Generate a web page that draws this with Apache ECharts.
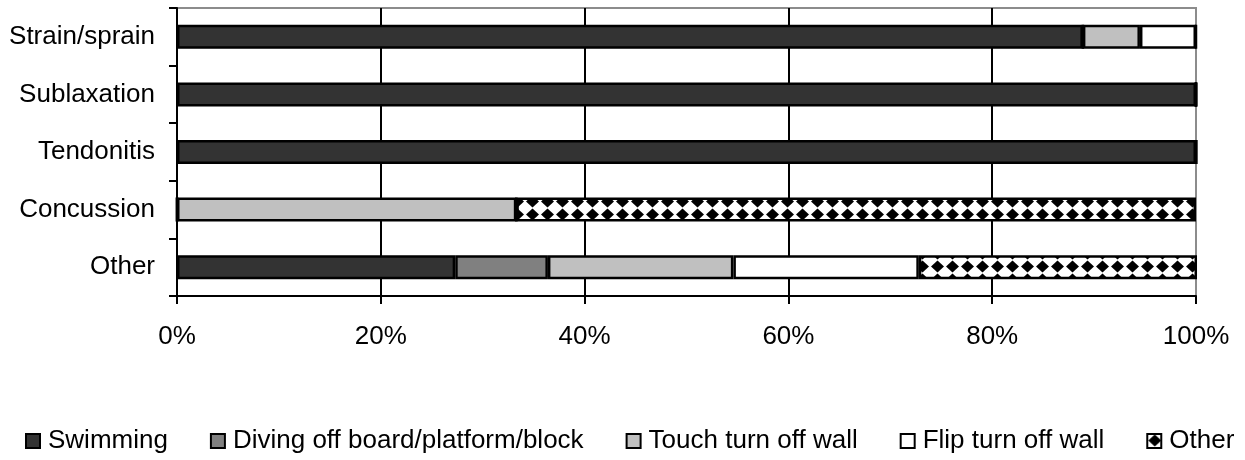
<!DOCTYPE html>
<html lang="en">
<head>
  <meta charset="UTF-8">
  <title>injuries</title>
  <script src="https://cdn.jsdelivr.net/npm/echarts@6/dist/echarts.min.js"></script>
  <style>
    html, body { margin: 0; padding: 0; background: #fff; }
  </style>
</head>
<body>
  <div id="main" style="width: 1245px;height: 460px;"></div>
  <script type="text/javascript">
    // chart data (percent of injuries per type)
    var injuries = ['Strain/sprain', 'Sublaxation', 'Tendonitis', 'Concussion', 'Other']
    var causes = ['Swimming', 'Diving off board/platform/block', 'Touch turn off wall', 'Flip turn off wall', 'Other']
    var swimming = [88.9, 100, 100, 0, 27.3]
    var diving = [0, 0, 0, 0, 9.1]
    var touchTurn = [5.6, 0, 0, 33.3, 18.2]
    var flipTurn = [5.5, 0, 0, 0, 18.2]
    var otherCause = [0, 0, 0, 66.7, 27.3]
    var xTicks = [0, 20, 40, 60, 80, 100]

    // diamond fill for "Other": black diamonds on white
    function diamondPattern() {
      var c = document.createElement('canvas')
      c.width = 15
      c.height = 13
      var ctx = c.getContext('2d')
      ctx.fillStyle = '#fff'
      ctx.fillRect(0, 0, 15, 13)
      ctx.fillStyle = '#000'
      ctx.beginPath()
      ctx.moveTo(7.5, 0.5)
      ctx.lineTo(14, 6.5)
      ctx.lineTo(7.5, 12.5)
      ctx.lineTo(1, 6.5)
      ctx.closePath()
      ctx.fill()
      return { image: c, repeat: 'repeat' }
    }

    var fills = ['#333333', '#808080', '#c0c0c0', '#ffffff', diamondPattern()]
    var values = [swimming, diving, touchTurn, flipTurn, otherCause]
    var font = 'Liberation Sans, Arial, sans-serif'

    var myChart = echarts.init(document.getElementById('main'))

    myChart.setOption({
      animation: false,
      backgroundColor: '#fff',
      textStyle: { fontFamily: font },
      grid: {
        left: 177, right: 49, top: 8, bottom: 164,
        show: true, borderColor: '#8c8c8c', borderWidth: 2
      },
      legend: {
        data: causes,
        left: 25,
        top: 428,
        padding: 0,
        itemGap: 42,
        itemWidth: 14,
        itemHeight: 14,
        icon: 'rect',
        itemStyle: { borderColor: '#000', borderWidth: 2 },
        textStyle: { fontSize: 26, color: '#000', fontFamily: font, padding: [0, 0, 0, 3] }
      },
      xAxis: {
        type: 'value',
        min: xTicks[0],
        max: xTicks[xTicks.length - 1],
        interval: 20,
        axisLine: { show: true, lineStyle: { color: '#000', width: 2 } },
        axisTick: { show: true, length: 8, lineStyle: { color: '#000', width: 2 } },
        axisLabel: { formatter: '{value}%', fontSize: 26, color: '#000', margin: 28, fontFamily: font },
        splitLine: { show: true, showMaxLine: false, lineStyle: { color: '#000', width: 2 } }
      },
      yAxis: {
        type: 'category',
        data: injuries,
        inverse: true,
        axisLine: { show: true, lineStyle: { color: '#000', width: 2 } },
        axisTick: { show: true, length: 8, lineStyle: { color: '#000', width: 2 } },
        axisLabel: { fontSize: 26, color: '#000', margin: 22, fontFamily: font },
        splitLine: { show: false }
      },
      series: causes.map(function (name, i) {
        return {
          name: name,
          type: 'bar',
          stack: 'all',
          barWidth: 24,
          itemStyle: { color: fills[i], borderColor: '#000', borderWidth: 2.5 },
          data: values[i]
        }
      })
    })
  </script>
</body>
</html>
